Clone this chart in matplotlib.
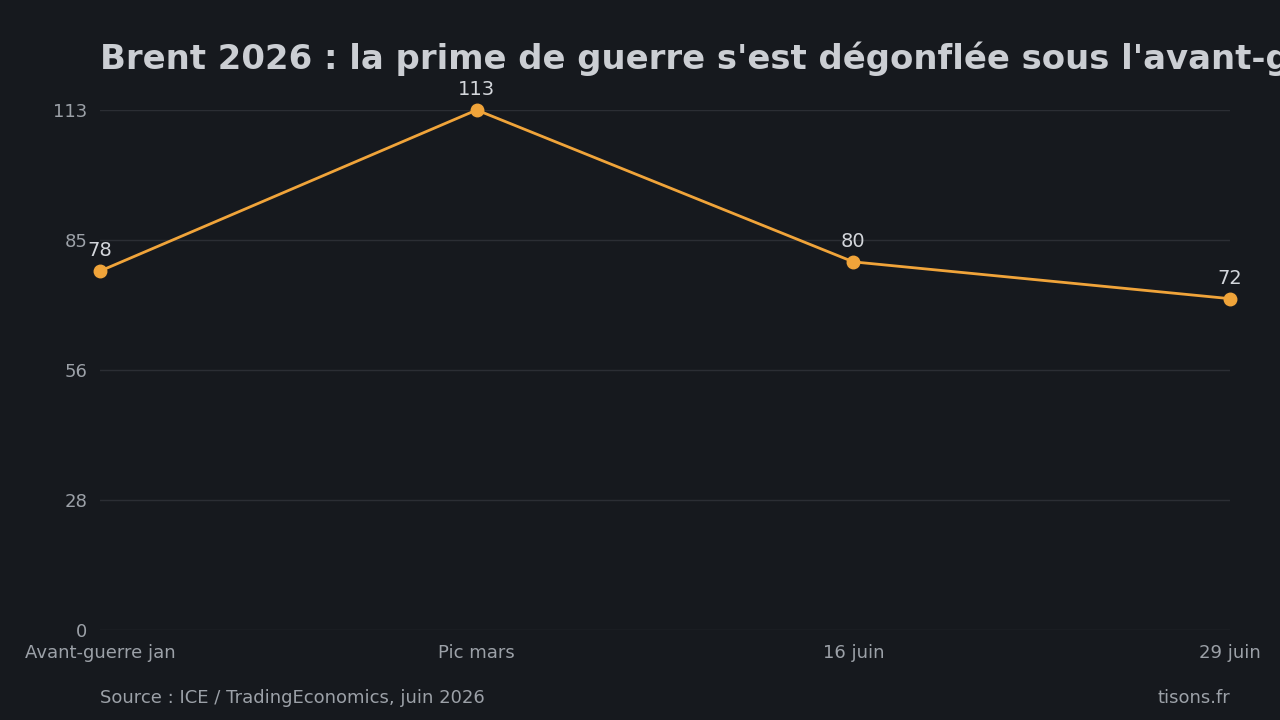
import matplotlib
matplotlib.use("Agg")
from matplotlib import pyplot as plt

BG = "#16191e"
LINE = "#f0a43a"
GRID = "#2b2e34"
TICK = "#9ca1a8"
LABEL = "#d3d6db"
TITLE = "#cbced3"

categories = ["Avant-guerre jan", "Pic mars", "16 juin", "29 juin"]
brent = [78, 113, 80, 72]
y_max = 113
y_ticks = [0, y_max / 4, y_max / 2, 3 * y_max / 4, y_max]

plt.rcParams["font.family"] = ["DejaVu Sans"]

fig = plt.figure(figsize=(12.8, 7.2), dpi=100, facecolor=BG)
ax = fig.add_axes([100 / 1280, 1 - 630 / 720, 1130 / 1280, 520 / 720])
ax.set_facecolor(BG)

x = list(range(len(categories)))
ax.plot(x, brent, color=LINE, linewidth=2, marker="o", markersize=9, zorder=3, clip_on=False)
for xi, v in zip(x, brent):
    ax.annotate(f"{v}", (xi, v), xytext=(0, 8), textcoords="offset points",
                ha="center", va="bottom", color=LABEL, fontsize=14)

ax.set_xlim(0, len(categories) - 1)
ax.set_ylim(0, y_max)
ax.set_xticks(x)
ax.set_xticklabels(categories)
ax.set_yticks(y_ticks)
ax.set_yticklabels([f"{t:.0f}" for t in y_ticks])
ax.tick_params(axis="both", length=0, colors=TICK, labelsize=13)
ax.tick_params(axis="x", pad=10)
ax.tick_params(axis="y", pad=9)
ax.grid(axis="y", color=GRID, linewidth=1)
ax.set_axisbelow(True)
for s in ax.spines.values():
    s.set_visible(False)

fig.text(100 / 1280, 1 - 59 / 720, "Brent 2026 : la prime de guerre s'est dégonflée sous l'avant-guerre",
         color=TITLE, fontsize=24.4, fontweight="bold", ha="left", va="center")
fig.text(100 / 1280, 1 - 698 / 720, "Source : ICE / TradingEconomics, juin 2026",
         color=TICK, fontsize=13, ha="left", va="center")
fig.text(1230 / 1280, 1 - 698 / 720, "tisons.fr",
         color=TICK, fontsize=13, ha="right", va="center")

fig.savefig("out.png", dpi=100, facecolor=BG)
plt.close(fig)
